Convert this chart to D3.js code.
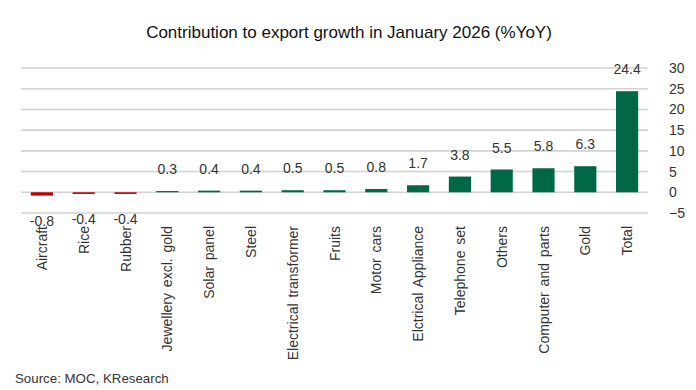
<!DOCTYPE html>
<html><head><meta charset="utf-8">
<script src="https://cdn.jsdelivr.net/npm/d3@7"></script>
<style>body{margin:0;background:#fff;}svg{display:block;font-family:"Liberation Sans",Arial,Helvetica,sans-serif;}</style>
</head><body>
<svg id="c" width="696" height="390"></svg>
<script>
const categories = ["Aircraft","Rice","Rubber","Jewellery excl. gold","Solar panel","Steel","Electrical transformer","Fruits","Motor cars","Elctrical Appliance","Telephone set","Others","Computer and parts","Gold","Total"];
const values = [-0.8,-0.4,-0.4,0.3,0.4,0.4,0.5,0.5,0.8,1.7,3.8,5.5,5.8,6.3,24.4];
const yTicks = [-5,0,5,10,15,20,25,30];
const title = "Contribution to export growth in January 2026 (%YoY)";
const source = "Source: MOC, KResearch";

(function () {
const svg = d3.select("#c");
const mLeft = 21, mRight = 648, mTop = 68, mBottom = 213;
const x = d3.scaleBand().domain(categories).range([mLeft, mRight]).paddingInner(0.47).paddingOuter(0.235);
const y = d3.scaleLinear().domain([-5, 30]).range([mBottom, mTop]);

svg.append("text").attr("x", 349).attr("y", 38).attr("text-anchor", "middle")
  .attr("font-size", 17).attr("fill", "#111").text(title);

svg.append("g").selectAll("line").data(yTicks).join("line")
  .attr("x1", mLeft).attr("x2", mRight).attr("y1", d => y(d)).attr("y2", d => y(d))
  .attr("stroke", "#d2d2d2").attr("stroke-width", 1.6);

const axis = d3.axisRight(y).tickValues(yTicks).tickSize(0).tickPadding(0);
const ag = svg.append("g").attr("transform", `translate(669,0)`).call(axis);
ag.select(".domain").remove();
ag.selectAll("text").attr("font-size", 14).attr("fill", "#333").attr("text-anchor", "start")
  .attr("font-family", "Liberation Sans, Arial, sans-serif");

const data = categories.map((c, i) => ({c, v: values[i]}));
svg.append("g").selectAll("rect").data(data).join("rect")
  .attr("x", d => x(d.c)).attr("width", x.bandwidth())
  .attr("y", d => y(Math.max(0, d.v))).attr("height", d => Math.abs(y(d.v) - y(0)))
  .attr("fill", d => d.v < 0 ? "#c00000" : "#006847");

svg.append("g").selectAll("text").data(data).join("text")
  .attr("x", d => x(d.c) + x.bandwidth() / 2)
  .attr("y", d => d.v < 0 ? y(d.v) + 30 : y(d.v) - 17)
  .attr("text-anchor", "middle").attr("font-size", 14).attr("fill", "#333")
  .text(d => d.v.toFixed(1));

svg.append("g").selectAll("text").data(categories).join("text")
  .attr("transform", d => `translate(${x(d) + x.bandwidth() / 2 + 5},226) rotate(-90)`)
  .attr("text-anchor", "end").attr("font-size", 14).attr("word-spacing", 2).attr("fill", "#333")
  .text(d => d);

svg.append("text").attr("x", 15).attr("y", 383).attr("font-size", 13.3).attr("fill", "#333").text(source);
})();
</script>
</body></html>
